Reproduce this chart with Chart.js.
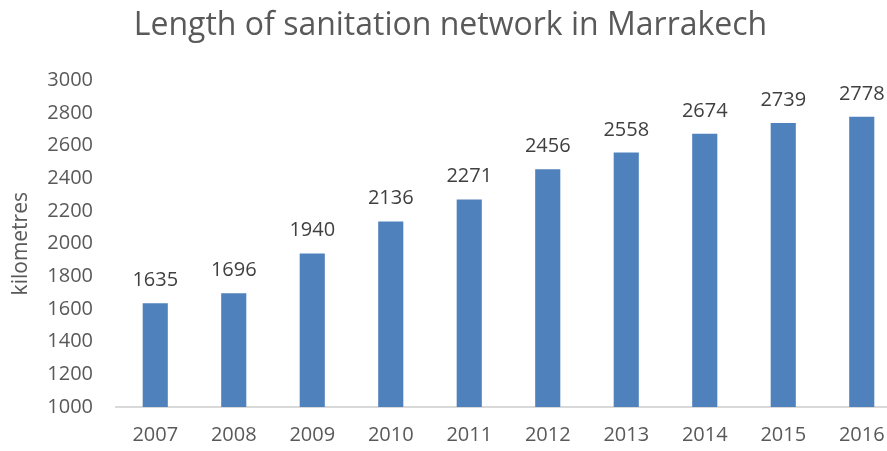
<!DOCTYPE html>
<html>
<head>
<meta charset="utf-8">
<title>Length of sanitation network in Marrakech</title>
<script src="https://cdn.jsdelivr.net/npm/chart.js@4/dist/chart.umd.min.js"></script>
<style>
    html, body {
        margin: 0;
        padding: 0;
        background: #ffffff;
        overflow: hidden;
    }
    #wrap {
        width: 902px;
        height: 451px;
    }
</style>
</head>
<body>
<div id="wrap">
    <canvas id="networkChart" width="902" height="451"></canvas>
</div>
<script>
// Sanitation network length per year (km)
const years = ['2007', '2008', '2009', '2010', '2011', '2012', '2013', '2014', '2015', '2016'];
const lengthKm = [1635, 1696, 1940, 2136, 2271, 2456, 2558, 2674, 2739, 2778];

const FONT = '"Open Sans", "Noto Sans", sans-serif';
const TEXT_GREY = '#595959';

// Draws each bar's value just above the bar
const valueLabels = {
    id: 'valueLabels',
    afterDatasetsDraw(chart) {
        const ctx = chart.ctx;
        const meta = chart.getDatasetMeta(0);
        ctx.save();
        ctx.font = '20px ' + FONT;
        ctx.fillStyle = '#404040';
        ctx.textAlign = 'center';
        ctx.textBaseline = 'alphabetic';
        meta.data.forEach((bar, i) => {
            ctx.fillText(String(lengthKm[i]), bar.x, bar.y - 17);
        });
        ctx.restore();
    }
};

const ctx = document.getElementById('networkChart').getContext('2d');

new Chart(ctx, {
    type: 'bar',
    data: {
        labels: years,
        datasets: [{
            label: 'Length of sanitation network',
            data: lengthKm,
            backgroundColor: '#4f81bd',
            borderWidth: 0,
            barPercentage: 0.32,
            categoryPercentage: 1
        }]
    },
    options: {
        responsive: false,
        animation: false,
        layout: {
            padding: { left: 0, right: 1, top: 0, bottom: 0 }
        },
        scales: {
            x: {
                grid: { display: false, drawTicks: false },
                border: { display: true, color: '#d9d9d9', width: 2 },
                ticks: {
                    color: TEXT_GREY,
                    font: { family: FONT, size: 20 },
                    padding: 16,
                    maxRotation: 0
                },
                afterFit(scale) {
                    scale.height = 44;
                }
            },
            y: {
                min: 1000,
                max: 3000,
                grid: { display: false, drawTicks: false },
                border: { display: false },
                ticks: {
                    stepSize: 200,
                    color: TEXT_GREY,
                    font: { family: FONT, size: 20 },
                    padding: 23,
                    callback: (value) => String(value)
                },
                title: {
                    display: true,
                    text: 'kilometres',
                    color: TEXT_GREY,
                    font: { family: FONT, size: 21 },
                    padding: { top: 8, bottom: 0 }
                },
                afterFit(scale) {
                    scale.width = 116;
                }
            }
        },
        plugins: {
            legend: { display: false },
            tooltip: { enabled: false },
            title: {
                display: true,
                text: 'Length of sanitation network in Marrakech',
                color: TEXT_GREY,
                font: { family: FONT, size: 32, weight: 'normal' },
                padding: { top: 7, bottom: 35 }
            }
        }
    },
    plugins: [valueLabels]
});
</script>
</body>
</html>
